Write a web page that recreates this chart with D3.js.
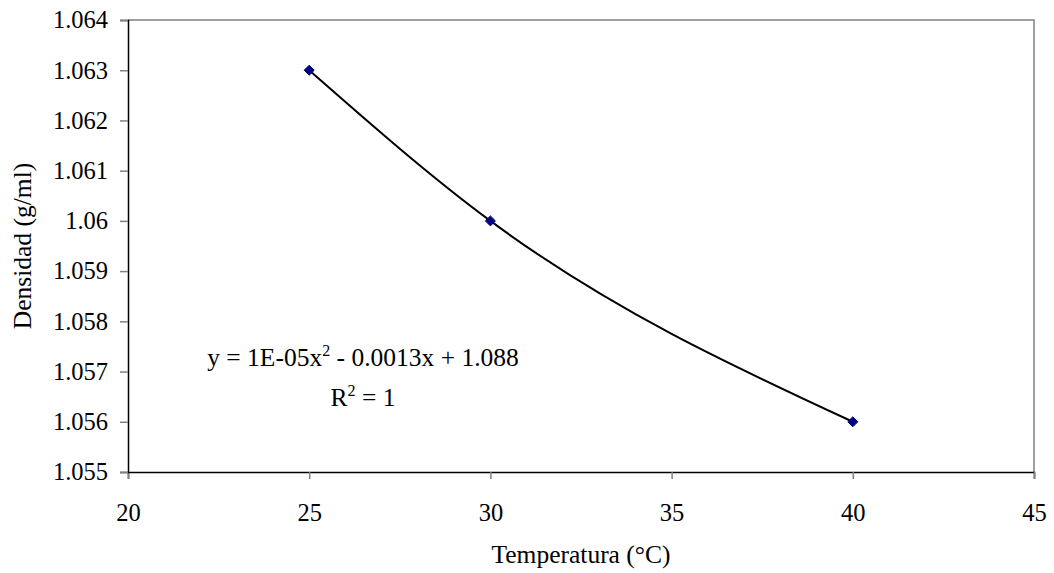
<!DOCTYPE html>
<html>
<head>
<meta charset="utf-8">
<script src="https://cdn.jsdelivr.net/npm/d3@7"></script>
<style>
  body { margin: 0; background: #fff; }
</style>
</head>
<body>
<svg width="1054" height="573" font-family="Liberation Serif, serif"></svg>
<script>
let temps = [25, 30, 40]
let densities = [1.063, 1.060, 1.056]
let xTicks = [20, 25, 30, 35, 40, 45]
let yTicks = [1.055, 1.056, 1.057, 1.058, 1.059, 1.06, 1.061, 1.062, 1.063, 1.064]
let equationText = 'y = 1E-05x'
let equationRest = ' - 0.0013x + 1.088'

let width = 1054
let height = 573
let margin = { top: 20, bottom: 101, left: 128, right: 20 }
let serif = 'Liberation Serif, serif'

let points = temps.map((t, i) => ({ temp: t, dens: densities[i] }))

let xScale = d3.scaleLinear()
  .domain([20, 45])
  .range([margin.left, width - margin.right])

let yScale = d3.scaleLinear()
  .domain([1.055, 1.064])
  .range([height - margin.bottom, margin.top])

let svg = d3.select('svg')

// plot frame (top and right in gray)
svg.append('path')
  .attr('d', 'M' + xScale(20) + ',' + yScale(1.064) + 'H' + xScale(45) + 'V' + yScale(1.055))
  .attr('fill', 'none')
  .attr('stroke', '#808080')
  .attr('stroke-width', 1.5)

let xAxis = d3.axisBottom(xScale)
  .tickValues(xTicks)
  .tickSize(7)
  .tickPadding(25)
  .tickFormat(d3.format('d'))

let yAxis = d3.axisLeft(yScale)
  .tickValues(yTicks)
  .tickSize(8)
  .tickPadding(12)
  .tickFormat(d => d3.format('.3f')(d).replace(/0$/, ''))

let gx = svg.append('g')
  .attr('transform', 'translate(' + [0, height - margin.bottom] + ')')
  .call(xAxis)

let gy = svg.append('g')
  .attr('transform', 'translate(' + [margin.left, 0] + ')')
  .call(yAxis)

for (let g of [gx, gy]) {
  g.attr('font-family', serif).attr('font-size', 24.5)
  g.select('.domain').attr('stroke', '#000').attr('stroke-width', 1.5)
  g.selectAll('.tick line').attr('stroke', '#808080').attr('stroke-width', 1.5)
  g.selectAll('.tick text').attr('fill', '#000')
}

// trendline (smooth curve through the data)
let line = d3.line()
  .x(d => xScale(d.temp))
  .y(d => yScale(d.dens))
  .curve(d3.curveMonotoneX)

svg.append('path')
  .attr('d', line(points))
  .attr('fill', 'none')
  .attr('stroke', '#000')
  .attr('stroke-width', 2)

// markers
svg.selectAll('.pt')
  .data(points)
  .enter().append('path')
  .attr('class', 'pt')
  .attr('d', d3.symbol(d3.symbolDiamond2, 64)())
  .attr('transform', d => 'translate(' + [xScale(d.temp), yScale(d.dens)] + ')')
  .attr('fill', '#000080')
  .attr('stroke', '#000080')

// axis titles
svg.append('text')
  .attr('x', (xScale(20) + xScale(45)) / 2)
  .attr('y', 563)
  .attr('text-anchor', 'middle')
  .attr('font-family', serif)
  .attr('font-size', 25.5)
  .text('Temperatura (°C)')

svg.append('text')
  .attr('transform', 'translate(31,' + (yScale(1.055) + yScale(1.064)) / 2 + ') rotate(-90)')
  .attr('text-anchor', 'middle')
  .attr('font-family', serif)
  .attr('font-size', 25.5)
  .text('Densidad (g/ml)')

// trendline equation
let eq = svg.append('text')
  .attr('x', 363)
  .attr('y', 366)
  .attr('text-anchor', 'middle')
  .attr('font-family', serif)
  .attr('font-size', 25.5)
eq.append('tspan').text(equationText)
eq.append('tspan').attr('dy', -10).attr('font-size', 16).text('2')
eq.append('tspan').attr('dy', 10).text(equationRest)

let r2 = svg.append('text')
  .attr('x', 363)
  .attr('y', 406)
  .attr('text-anchor', 'middle')
  .attr('font-family', serif)
  .attr('font-size', 25.5)
r2.append('tspan').text('R')
r2.append('tspan').attr('dy', -10).attr('font-size', 16).text('2')
r2.append('tspan').attr('dy', 10).text(' = 1')
</script>
</body>
</html>
